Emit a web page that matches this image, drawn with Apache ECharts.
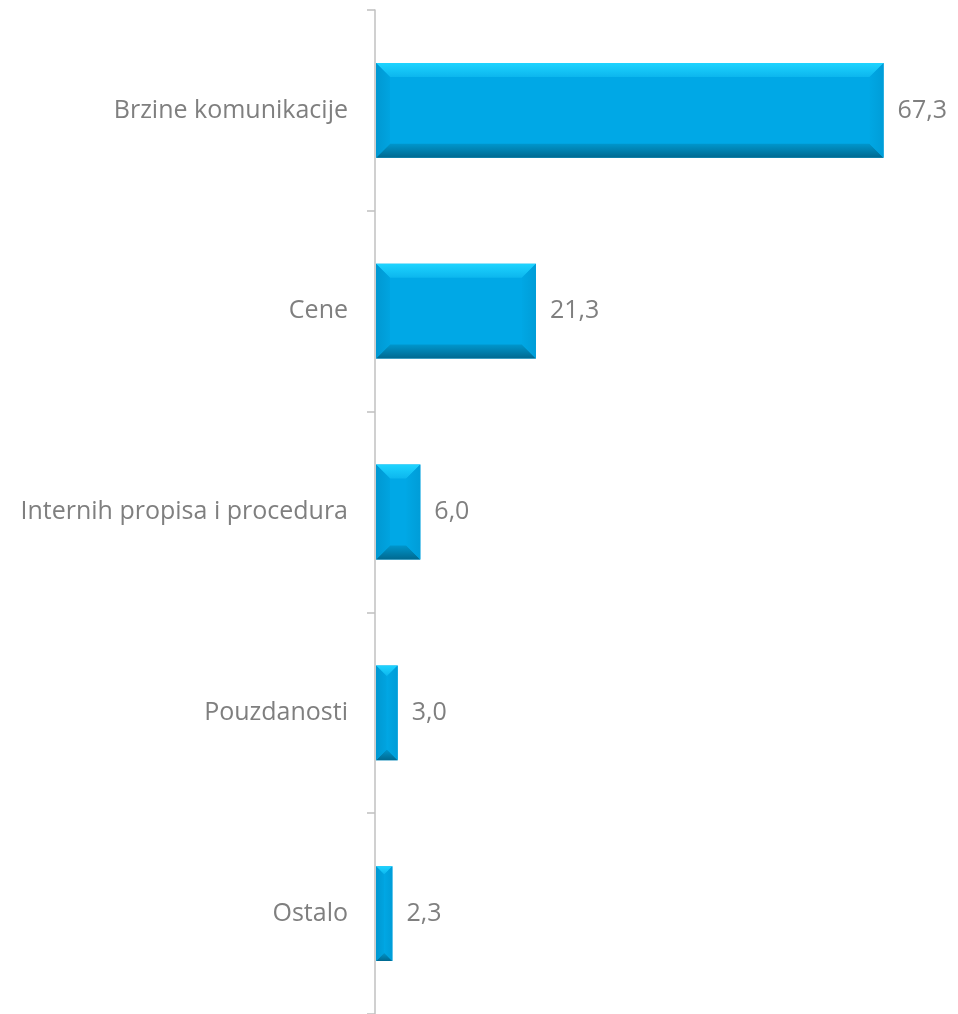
<!DOCTYPE html>
<html><head><meta charset="utf-8">
<script src="https://cdn.jsdelivr.net/npm/echarts@6/dist/echarts.min.js"></script>
<style>html,body{margin:0;padding:0;background:#fff}#c{width:958px;height:1014px}</style>
</head><body><div id="c"></div>
<script>
const categories = ['Brzine komunikacije', 'Cene', 'Internih propisa i procedura', 'Pouzdanosti', 'Ostalo'];
const values = [67.3, 21.3, 6.0, 3.0, 2.3];
const valueLabels = ['67,3', '21,3', '6,0', '3,0', '2,3'];

const FONT = 'Open Sans';
const chart = echarts.init(document.getElementById('c'));

function renderItem(params, api) {
  const idx = api.value(0);
  const val = api.value(1);
  const p0 = api.coord([0, idx]);
  const p1 = api.coord([val, idx]);
  const band = api.size([0, 1])[1];
  const h = band * 0.472;
  const x0 = p0[0] + 1, x1 = p1[0];
  const y0 = p0[1] - h / 2, y1 = p0[1] + h / 2;
  const w = x1 - x0;
  const b = Math.min(14, w / 2, h / 2);
  const poly = (pts, fill) => ({ type: 'polygon', shape: { points: pts }, style: { fill: fill }, silent: true });
  const lg = (x, y, x2, y2, c0, c1) => new echarts.graphic.LinearGradient(x, y, x2, y2, [{ offset: 0, color: c0 }, { offset: 1, color: c1 }]);
  return {
    type: 'group',
    children: [
      { type: 'rect', shape: { x: x0, y: y0, width: w, height: h }, style: { fill: '#00a8e6' } },
      poly([[x0, y0], [x1, y0], [x1 - b, y0 + b], [x0 + b, y0 + b]], lg(0, 0, 0, 1, '#1ed4ff', '#0cb6ee')),
      poly([[x0, y1], [x1, y1], [x1 - b, y1 - b], [x0 + b, y1 - b]], lg(0, 1, 0, 0, '#006990', '#0096cc')),
      poly([[x0, y0], [x0 + b, y0 + b], [x0 + b, y1 - b], [x0, y1]], lg(0, 0, 1, 0, '#0098d2', '#00a4e0')),
      poly([[x1, y0], [x1 - b, y0 + b], [x1 - b, y1 - b], [x1, y1]], lg(1, 0, 0, 0, '#009dd8', '#00a7e4')),
      { type: 'text', x: x1 + 14, y: p0[1], style: { text: valueLabels[idx], fill: '#7f7f7f', font: '25px "' + FONT + '"', verticalAlign: 'middle', align: 'left' } }
    ]
  };
}

chart.setOption({
  animation: false,
  grid: { left: 375, right: 54, top: 10, bottom: -1, containLabel: false },
  xAxis: { type: 'value', min: 0, max: 70, show: false },
  yAxis: {
    type: 'category', data: categories, inverse: true, boundaryGap: true,
    axisLine: { show: true, lineStyle: { color: '#c0c0c0', width: 1.5 } },
    axisTick: { show: true, length: 8, lineStyle: { color: '#c0c0c0', width: 1.5 } },
    axisLabel: { color: '#7f7f7f', fontSize: 25, fontFamily: FONT, margin: 27 },
    splitLine: { show: false }
  },
  series: [{
    type: 'custom',
    renderItem: renderItem,
    data: values.map((v, i) => [i, v]),
    encode: { x: 1, y: 0 }
  }]
});
</script></body></html>
